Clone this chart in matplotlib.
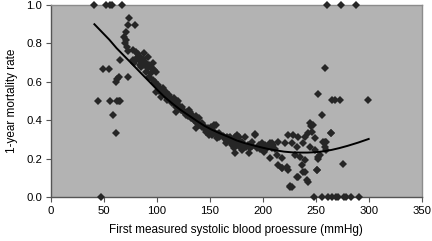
import matplotlib
matplotlib.use("Agg")
import matplotlib.pyplot as plt

# scatter: first measured SBP (mmHg) vs 1-year mortality rate
sbp = [
    41, 52, 56, 58, 67, 47.6, 49, 55, 44, 56, 62, 64, 65, 59, 61,
    61, 62, 64, 65, 73,
    74, 79, 72.5, 71, 69, 71, 69.5, 72, 73,
    77.2, 80.4, 88.2, 81.9, 91.3, 77.2, 83.5, 86.6, 78.8, 96, 85.1, 91.3,
    97.6, 89.8, 94.5, 99.2, 92.9, 96,
    82, 84, 87, 90, 88, 93, 95, 84, 80,
    97.6, 100.7, 99.2, 105.4, 107, 103.8, 111.6, 110, 116.3, 114.7, 119.4,
    121, 124.1, 117.9, 130.4, 127.3, 133.5, 135.1, 139.8, 138.2, 142.9,
    144.4, 150.8, 153.8, 149.2, 153.8, 158.5, 156.9, 163.2, 167.9, 166.3,
    172.6, 171, 177.3, 178.9, 174.2, 102, 108, 113, 118, 123, 126, 129, 132,
    98, 101, 103, 106, 108, 109, 112, 113, 115, 117, 119, 120, 122, 125, 126,
    128, 129, 131, 132, 134, 136, 137, 139, 141, 143, 145, 147, 148, 151, 152,
    155, 157, 160, 162, 164, 166, 169, 170, 173, 176, 178, 181, 184, 186, 188,
    190, 196, 197, 204, 210, 212,
    155.4, 136.7, 149, 165, 174,
    142.9, 146, 152.3, 158.5, 164.8, 171, 177.3, 183.6, 180.4, 189.8, 193,
    199.2, 202.3, 207, 214.8, 194.5, 200.8, 208.5, 213.3, 218, 214.8, 218,
    222.6, 224.2, 221, 224.2, 228.9, 233.6, 227.3, 232, 238.3, 239.9, 230.5,
    235.2, 239.9, 243, 246.1, 247.7, 249.3, 244.6, 249.3, 236.7, 239.9, 232,
    241.4, 250.8, 227.3, 252.3, 257, 260.1, 264.8, 258.6, 260.1, 275.8, 255.5,
    169.5, 175.7, 192.3, 172.6, 180.4, 186.7, 199.2, 208.5, 202.3, 207, 218,
    225.8, 233.6,
    258.6, 252, 265, 268, 273, 299, 244.5, 246, 264, 258.6, 225.8, 243,
    238, 250.8, 252, 254,
    261, 274, 288,
    248, 256, 262, 265, 269, 271, 277, 279, 283, 291,
]
mortality = [
    1.0, 1.0, 1.0, 1.0, 1.0, 0.0, 0.667, 0.667, 0.5, 0.5, 0.5, 0.5, 0.5, 0.429, 0.333,
    0.6, 0.615, 0.625, 0.714, 0.625,
    0.93, 0.895, 0.895, 0.86, 0.835, 0.82, 0.80, 0.78, 0.76,
    0.766, 0.757, 0.748, 0.731, 0.731, 0.714, 0.714, 0.705, 0.696, 0.696, 0.679, 0.670,
    0.661, 0.653, 0.644, 0.653, 0.627, 0.609,
    0.745, 0.73, 0.72, 0.70, 0.685, 0.69, 0.67, 0.69, 0.72,
    0.592, 0.575, 0.549, 0.566, 0.540, 0.522, 0.531, 0.505, 0.514, 0.488, 0.488,
    0.462, 0.470, 0.444, 0.453, 0.427, 0.427, 0.401, 0.410, 0.384, 0.384,
    0.358, 0.366, 0.375, 0.340, 0.332, 0.332, 0.306, 0.314, 0.306, 0.288,
    0.297, 0.271, 0.288, 0.262, 0.314, 0.55, 0.53, 0.50, 0.47, 0.455, 0.44, 0.42, 0.41,
    0.60, 0.585, 0.56, 0.55, 0.53, 0.545, 0.515, 0.50, 0.505, 0.49, 0.475, 0.50, 0.47,
    0.455, 0.445, 0.44, 0.43, 0.44, 0.415, 0.41, 0.395, 0.42, 0.39, 0.375, 0.37, 0.365,
    0.35, 0.36, 0.345, 0.355, 0.335, 0.33, 0.32, 0.315, 0.30, 0.31, 0.29, 0.30, 0.28,
    0.27, 0.285, 0.27, 0.26, 0.27, 0.255, 0.265, 0.27, 0.25, 0.26, 0.27, 0.25,
    0.375, 0.358, 0.323, 0.28, 0.228,
    0.366, 0.340, 0.323, 0.314, 0.306, 0.280, 0.314, 0.314, 0.288, 0.288, 0.323,
    0.280, 0.271, 0.280, 0.288, 0.254, 0.236, 0.254, 0.219, 0.201, 0.167, 0.149,
    0.158, 0.141, 0.280, 0.323, 0.323, 0.314, 0.280, 0.262, 0.280, 0.314, 0.219,
    0.210, 0.193, 0.332, 0.340, 0.375, 0.306, 0.262, 0.245, 0.167, 0.132, 0.106,
    0.089, 0.141, 0.054, 0.210, 0.288, 0.288, 0.332, 0.262, 0.245, 0.172, 0.427,
    0.314, 0.322, 0.327, 0.254, 0.245, 0.228, 0.271, 0.280, 0.245, 0.201, 0.149,
    0.054, 0.106,
    0.67, 0.536, 0.505, 0.505, 0.505, 0.505, 0.384, 0.37, 0.332, 0.288, 0.057, 0.08,
    0.132, 0.141, 0.20, 0.219,
    1.0, 1.0, 1.0,
    0.0, 0.0, 0.0, 0.0, 0.0, 0.0, 0.0, 0.0, 0.0, 0.0,
]

# polynomial trend line
trend_x = [41, 48, 55, 62, 70, 78, 85, 93, 100, 107, 115, 122, 130, 138, 145, 152, 160,
           168, 175, 182, 190, 198, 205, 212, 220, 228, 235, 242, 250, 258, 265, 272,
           280, 290, 300]
trend_y = [0.90, 0.86, 0.82, 0.775, 0.73, 0.685, 0.645, 0.60, 0.56, 0.522, 0.485, 0.455,
           0.425, 0.395, 0.37, 0.35, 0.33, 0.312, 0.295, 0.282, 0.27, 0.259, 0.25, 0.243,
           0.236, 0.232, 0.231, 0.231, 0.233, 0.238, 0.245, 0.254, 0.266, 0.283, 0.302]

x_ticks = [0, 50, 100, 150, 200, 250, 300, 350]
y_ticks = [0.0, 0.2, 0.4, 0.6, 0.8, 1.0]

plt.rcParams['font.family'] = ['Liberation Sans', 'DejaVu Sans']

fig = plt.figure(figsize=(4.32, 2.41), dpi=100)
ax = fig.add_axes([0.118, 0.183, 0.858, 0.796])
ax.set_facecolor('#b3b3b3')

ax.plot(sbp, mortality, linestyle='none', marker='D', markersize=4.0,
        color='#262626', markeredgewidth=0, clip_on=False, zorder=3)
ax.plot(trend_x, trend_y, color='black', linewidth=1.4, zorder=4)

ax.set_xlim(0, 350)
ax.set_ylim(0, 1.0)
ax.set_xticks(x_ticks)
ax.set_yticks(y_ticks)
ax.set_yticklabels([f"{v:.1f}" for v in y_ticks])

for side in ['top', 'right']:
    ax.spines[side].set_color('#8c8c8c')
    ax.spines[side].set_linewidth(1)
for side in ['left', 'bottom']:
    ax.spines[side].set_color('#555555')
    ax.spines[side].set_linewidth(1)

ax.tick_params(axis='both', direction='out', length=3.5, width=0.8, color='#555555',
               labelsize=8.2, pad=3)

ax.set_xlabel('First measured systolic blood proessure (mmHg)', fontsize=8.5, labelpad=6)
ax.set_ylabel('1-year mortality rate', fontsize=8.5, labelpad=6)

fig.savefig('out.png', dpi=100)
